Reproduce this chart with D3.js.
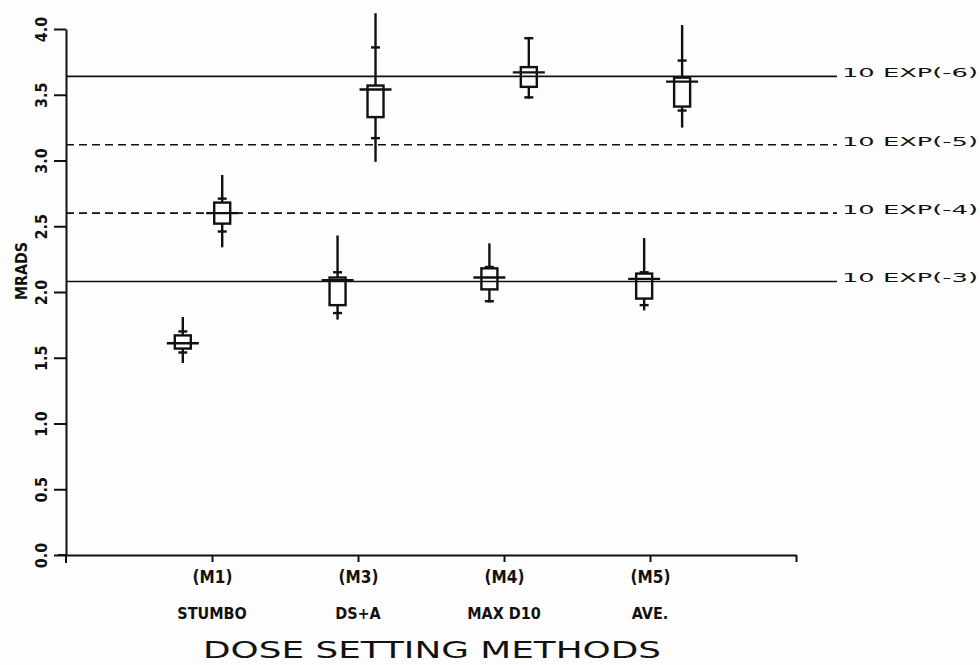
<!DOCTYPE html>
<html>
<head>
<meta charset="utf-8">
<script src="https://cdn.jsdelivr.net/npm/d3@7"></script>
<style>
  body { margin: 0; background: #fff; }
  svg { display: block; background: #fdfdfd; }
  .lbl { font-family: "DejaVu Sans Condensed", "Liberation Sans Narrow", sans-serif; font-weight: bold; fill: #111; }
  .plot { font-family: "DejaVu Sans", "Liberation Sans", sans-serif; fill: #111; }
</style>
</head>
<body>
<svg width="980" height="665"></svg>
<script>
// categories on the x axis
var methods = ["(M1)", "(M3)", "(M4)", "(M5)"];
var methodNames = ["STUMBO", "DS+A", "MAX D10", "AVE."];
var methodTicks = [1, 2, 3, 4];

// y axis
var yTicks = [0, 0.5, 1, 1.5, 2, 2.5, 3, 3.5, 4];
var yTickLabels = ["0.0", "0.5", "1.0", "1.5", "2.0", "2.5", "3.0", "3.5", "4.0"];

// reference levels (MRADS)
var refLevels = [3.64, 3.12, 2.60, 2.08];
var refLabels = ["10 EXP(-6)", "10 EXP(-5)", "10 EXP(-4)", "10 EXP(-3)"];
var refDashed = [false, true, true, false];

// lower group of boxes (position on the method axis + stats)
var lowPos = [0.80, 1.86, 2.90, 3.96];
var lowWhiskerMin = [1.46, 1.79, 1.92, 1.86];
var lowTickMin = [1.54, 1.84, 1.93, 1.90];
var lowBoxMin = [1.57, 1.90, 2.02, 1.95];
var lowMid = [1.61, 2.09, 2.11, 2.10];
var lowBoxMax = [1.67, 2.11, 2.18, 2.14];
var lowTickMax = [1.70, 2.15, 2.19, 2.15];
var lowWhiskerMax = [1.81, 2.43, 2.37, 2.41];

// upper group of boxes
var highPos = [1.07, 2.12, 3.17, 4.22];
var highWhiskerMin = [2.34, 2.99, 3.47, 3.25];
var highTickMin = [2.46, 3.17, 3.48, 3.38];
var highBoxMin = [2.52, 3.33, 3.56, 3.41];
var highMid = [2.60, 3.54, 3.67, 3.60];
var highBoxMax = [2.68, 3.57, 3.71, 3.63];
var highTickMax = [2.71, 3.86, 3.93, 3.76];
var highWhiskerMax = [2.89, 4.12, 3.94, 4.03];

var ink = "#111";
var svg = d3.select("svg");

var x = d3.scaleLinear().domain([0, 5]).range([66, 796]);
var y = d3.scaleLinear().domain([0, 4]).range([555, 29]);

/* reference lines */
var refs = svg.append("g").selectAll("g")
  .data(refLevels.map(function(v, i) { return {v: v, label: refLabels[i], dashed: refDashed[i]}; }))
  .enter().append("g");

refs.append("line")
  .attr("x1", x(0)).attr("x2", 837)
  .attr("y1", function(d) { return y(d.v); })
  .attr("y2", function(d) { return y(d.v); })
  .attr("stroke", ink)
  .attr("stroke-width", 1.6)
  .attr("stroke-dasharray", function(d) { return d.dashed ? "8,5" : null; });

refs.append("text")
  .attr("class", "plot")
  .attr("x", 842)
  .attr("y", function(d) { return y(d.v) + 1; })
  .attr("font-size", 13)
  .attr("textLength", 136)
  .attr("lengthAdjust", "spacingAndGlyphs")
  .text(function(d) { return d.label; });

/* axes */
var yAxis = d3.axisLeft(y)
  .tickValues(yTicks)
  .tickSize(12)
  .tickSizeOuter(0)
  .tickFormat(function(d, i) { return yTickLabels[i]; });

var gy = svg.append("g")
  .attr("transform", "translate(" + x(0) + ",0)")
  .call(yAxis);

gy.selectAll("text")
  .attr("class", "lbl")
  .attr("x", 0).attr("y", 0).attr("dy", null)
  .attr("text-anchor", "middle")
  .attr("font-size", 16)
  .attr("transform", "translate(-19,0) rotate(-90)");

var xAxis = d3.axisBottom(x)
  .tickValues(methodTicks.concat([5]))
  .tickSize(7)
  .tickSizeOuter(0)
  .tickFormat(function(d, i) { return methods[i] || ""; });

var gx = svg.append("g")
  .attr("transform", "translate(0," + y(0) + ")")
  .call(xAxis);

gx.selectAll("text")
  .attr("class", "lbl")
  .attr("font-size", 17)
  .attr("y", 28)
  .attr("dy", null);

svg.selectAll(".domain, .tick line")
  .attr("stroke", ink)
  .attr("stroke-width", 2);
svg.selectAll(".tick text").attr("fill", ink).attr("font-family", null);

// axis overshoots like the plotter drawing
svg.append("line")
  .attr("x1", x(0)).attr("x2", x(0))
  .attr("y1", y(0)).attr("y2", y(0) + 8)
  .attr("stroke", ink).attr("stroke-width", 2);
svg.append("line")
  .attr("x1", x(0) - 8).attr("x2", x(0))
  .attr("y1", y(0)).attr("y2", y(0))
  .attr("stroke", ink).attr("stroke-width", 2);

// method names under the codes
svg.append("g").selectAll("text")
  .data(methodNames)
  .enter().append("text")
  .attr("class", "lbl")
  .attr("font-size", 16)
  .attr("text-anchor", "middle")
  .attr("x", function(d, i) { return x(methodTicks[i]); })
  .attr("y", 619)
  .text(function(d) { return d; });

svg.append("text")
  .attr("class", "plot")
  .attr("font-size", 23)
  .attr("x", 203)
  .attr("y", 658)
  .attr("textLength", 458)
  .attr("lengthAdjust", "spacingAndGlyphs")
  .text("DOSE SETTING METHODS");

svg.append("text")
  .attr("class", "lbl")
  .attr("font-size", 16)
  .attr("text-anchor", "middle")
  .attr("textLength", 58)
  .attr("lengthAdjust", "spacingAndGlyphs")
  .attr("transform", "translate(27,271) rotate(-90)")
  .text("MRADS");

/* box marks */
function buildBoxes(pos, wMin, tMin, bMin, mid, bMax, tMax, wMax) {
  return pos.map(function(p, i) {
    return {p: p, wMin: wMin[i], tMin: tMin[i], bMin: bMin[i], mid: mid[i],
            bMax: bMax[i], tMax: tMax[i], wMax: wMax[i]};
  });
}

var boxes = buildBoxes(lowPos, lowWhiskerMin, lowTickMin, lowBoxMin, lowMid, lowBoxMax, lowTickMax, lowWhiskerMax)
  .concat(buildBoxes(highPos, highWhiskerMin, highTickMin, highBoxMin, highMid, highBoxMax, highTickMax, highWhiskerMax));

var boxW = 16, wingW = 32, tickW = 9;

var bg = svg.append("g").selectAll("g.box")
  .data(boxes)
  .enter().append("g")
  .attr("class", "box")
  .attr("stroke", ink)
  .attr("stroke-width", 2.4)
  .attr("fill", "none");

bg.append("line") // upper whisker
  .attr("x1", function(d) { return x(d.p); }).attr("x2", function(d) { return x(d.p); })
  .attr("y1", function(d) { return y(d.wMax); }).attr("y2", function(d) { return y(d.bMax); });

bg.append("line") // lower whisker
  .attr("x1", function(d) { return x(d.p); }).attr("x2", function(d) { return x(d.p); })
  .attr("y1", function(d) { return y(d.bMin); }).attr("y2", function(d) { return y(d.wMin); });

bg.append("rect")
  .attr("x", function(d) { return x(d.p) - boxW / 2; })
  .attr("width", boxW)
  .attr("y", function(d) { return y(d.bMax); })
  .attr("height", function(d) { return y(d.bMin) - y(d.bMax); });

bg.append("line") // mean wing
  .attr("x1", function(d) { return x(d.p) - wingW / 2; })
  .attr("x2", function(d) { return x(d.p) + wingW / 2; })
  .attr("y1", function(d) { return y(d.mid); }).attr("y2", function(d) { return y(d.mid); });

["tMin", "tMax"].forEach(function(k) {
  bg.append("line")
    .attr("x1", function(d) { return x(d.p) - tickW / 2; })
    .attr("x2", function(d) { return x(d.p) + tickW / 2; })
    .attr("y1", function(d) { return y(d[k]); }).attr("y2", function(d) { return y(d[k]); });
});
</script>
</body>
</html>
